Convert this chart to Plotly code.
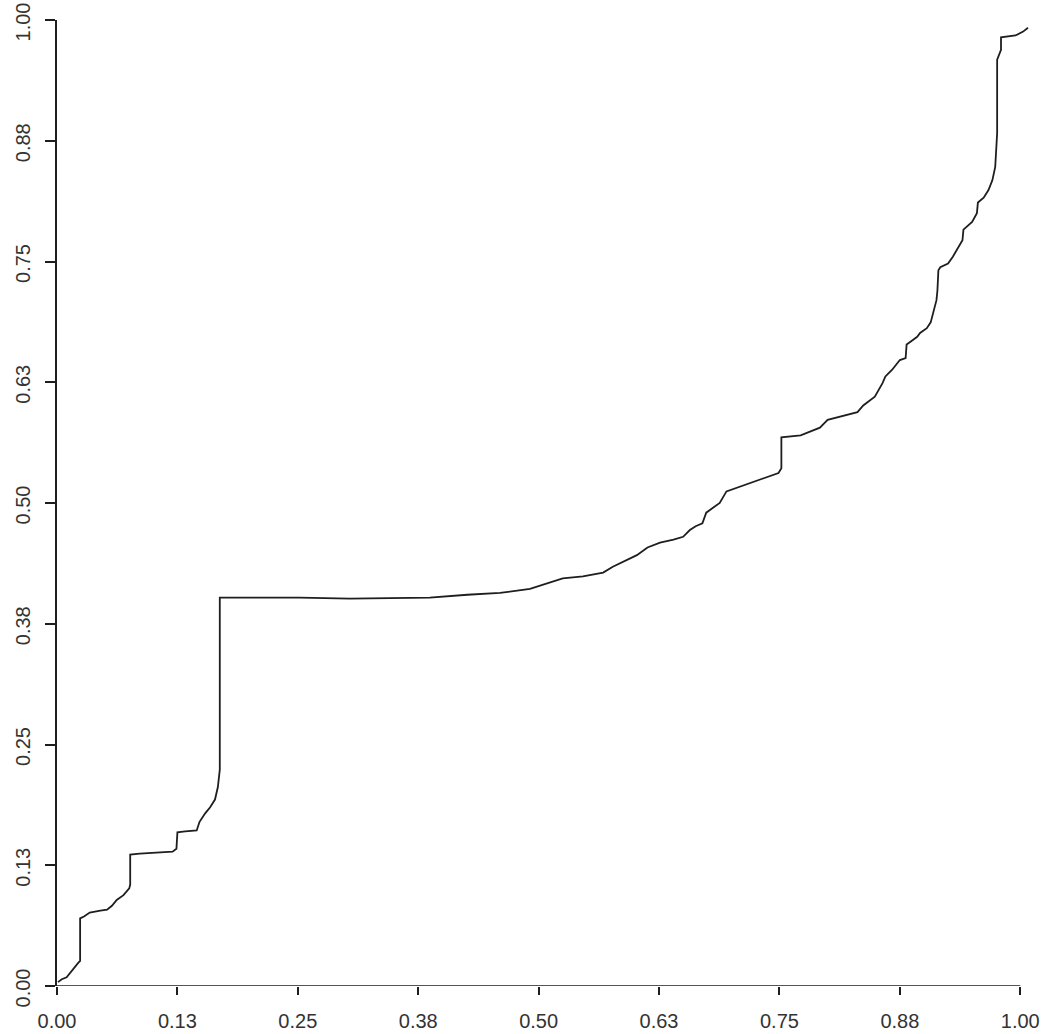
import plotly.graph_objects as go

# Curve values (x in [0,1], y in [0,1])
curve_x = [0.001, 0.005, 0.010, 0.016, 0.022, 0.024, 0.024, 0.028, 0.034, 0.045, 0.052, 0.057,
           0.062, 0.069, 0.075, 0.076, 0.076, 0.086, 0.107, 0.120, 0.124, 0.125, 0.133, 0.145,
           0.148, 0.154, 0.159, 0.164, 0.167, 0.169, 0.169, 0.252, 0.304, 0.387, 0.426, 0.460,
           0.491, 0.525, 0.546, 0.567, 0.577, 0.588, 0.602, 0.613, 0.626, 0.640, 0.650, 0.657,
           0.663, 0.670, 0.674, 0.681, 0.688, 0.695, 0.706, 0.718, 0.735, 0.749, 0.752, 0.752,
           0.772, 0.792, 0.800, 0.820, 0.831, 0.837, 0.849, 0.857, 0.860, 0.867, 0.872, 0.875,
           0.881, 0.882, 0.886, 0.893, 0.896, 0.903, 0.907, 0.910, 0.913, 0.914, 0.915, 0.917,
           0.925, 0.930, 0.935, 0.940, 0.941, 0.950, 0.955, 0.956, 0.962, 0.967, 0.971, 0.974,
           0.976, 0.976, 0.980, 0.980, 0.995, 1.003, 1.008]
curve_y = [0.004, 0.007, 0.009, 0.017, 0.024, 0.026, 0.070, 0.072, 0.076, 0.078, 0.079, 0.083,
           0.089, 0.094, 0.101, 0.105, 0.136, 0.137, 0.138, 0.139, 0.142, 0.159, 0.160, 0.161,
           0.170, 0.179, 0.185, 0.193, 0.206, 0.224, 0.402, 0.402, 0.401, 0.402, 0.405, 0.407,
           0.411, 0.422, 0.424, 0.428, 0.434, 0.439, 0.446, 0.454, 0.459, 0.462, 0.465, 0.472,
           0.476, 0.479, 0.490, 0.495, 0.500, 0.512, 0.516, 0.520, 0.526, 0.531, 0.536, 0.568,
           0.570, 0.578, 0.586, 0.591, 0.594, 0.601, 0.610, 0.624, 0.631, 0.638, 0.645, 0.648,
           0.650, 0.664, 0.667, 0.672, 0.676, 0.681, 0.687, 0.698, 0.710, 0.720, 0.741, 0.744,
           0.748, 0.755, 0.764, 0.772, 0.783, 0.791, 0.800, 0.811, 0.816, 0.824, 0.834, 0.848,
           0.883, 0.959, 0.969, 0.982, 0.984, 0.988, 0.992]

tick_vals = [0.0, 0.125, 0.25, 0.375, 0.5, 0.625, 0.75, 0.875, 1.0]
tick_text = ["0.00", "0.13", "0.25", "0.38", "0.50", "0.63", "0.75", "0.88", "1.00"]

ink = "#1e1e1e"
font = dict(family="Liberation Sans, Arial, sans-serif", size=20, color="#333333")

fig = go.Figure()
fig.add_trace(go.Scatter(x=curve_x, y=curve_y, mode="lines",
                         line=dict(color=ink, width=1.8), hoverinfo="skip",
                         showlegend=False))

fig.update_layout(
    width=1046, height=1034,
    margin=dict(l=57, r=16, t=20, b=48),
    paper_bgcolor="white", plot_bgcolor="white",
    font=font,
    shapes=[dict(type="line", xref="x", yref="y", x0=0, x1=1, y0=0, y1=0,
                 line=dict(color=ink, width=1.5), layer="above")],
)
fig.update_xaxes(range=[0, 1.0101], tickvals=tick_vals, ticktext=tick_text,
                 ticks="outside", ticklen=8, tickwidth=1.5, tickcolor=ink,
                 showline=False, showgrid=False, zeroline=False, automargin=False,
                 ticklabeloverflow="allow", ticklabelstandoff=9, tickfont=font)
fig.update_yaxes(range=[0, 1], tickvals=tick_vals, ticktext=tick_text,
                 ticks="outside", ticklen=10, tickwidth=1.5, tickcolor=ink,
                 showline=True, linecolor=ink, linewidth=1.5, automargin=False,
                 showgrid=False, zeroline=False, tickangle=-90,
                 ticklabeloverflow="allow", ticklabelstandoff=7, ticklabelshift=5,
                 tickfont=font)

# remove the browser's default 8px page margin so the figure fills the window
fig.write_html("out.html",
               config={"displayModeBar": False},
               post_script="document.body.style.margin='0';"
                           "document.body.style.overflow='hidden';")
